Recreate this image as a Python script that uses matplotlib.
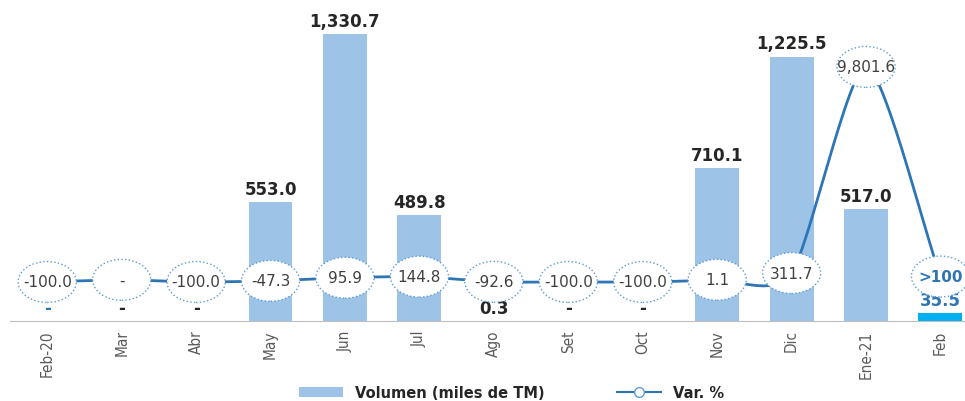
import numpy as np
import matplotlib
matplotlib.use("Agg")
import matplotlib.pyplot as plt
from matplotlib.path import Path
from matplotlib.patches import Patch
from matplotlib.lines import Line2D

# Data
months = ["Feb-20", "Mar", "Abr", "May", "Jun", "Jul", "Ago", "Set", "Oct",
          "Nov", "Dic", "Ene-21", "Feb"]
volumen = [0, 0, 0, 553.0, 1330.7, 489.8, 0.3, 0, 0, 710.1, 1225.5, 517.0, 35.5]
vol_labels = ["-", "-", "-", "553.0", "1,330.7", "489.8", "0.3", "-", "-",
              "710.1", "1,225.5", "517.0", "35.5"]
var_pct = [-100.0, 0, -100.0, -47.3, 95.9, 144.8, -92.6, -100.0, -100.0,
           1.1, 311.7, 9801.6, 150]
var_labels = ["-100.0", "-", "-100.0", "-47.3", "95.9", "144.8", "-92.6",
              "-100.0", "-100.0", "1.1", "311.7", "9,801.6", ">100"]

bar_color = "#9DC3E6"
last_bar_color = "#00B0F0"
line_color = "#2E75B6"


def smooth(xs, ys, n=30, tension=0.7):
    # cardinal spline through the points, like Excel's smoothed line
    xs = np.asarray(xs, float)
    ys = np.asarray(ys, float)
    mx = np.gradient(xs) * tension
    my = np.gradient(ys) * tension
    t = np.linspace(0, 1, n)
    h00 = 2 * t ** 3 - 3 * t ** 2 + 1
    h10 = t ** 3 - 2 * t ** 2 + t
    h01 = -2 * t ** 3 + 3 * t ** 2
    h11 = t ** 3 - t ** 2
    outx, outy = [], []
    for i in range(len(xs) - 1):
        outx.extend(h00 * xs[i] + h10 * mx[i] + h01 * xs[i + 1] + h11 * mx[i + 1])
        outy.extend(h00 * ys[i] + h10 * my[i] + h01 * ys[i + 1] + h11 * my[i + 1])
    return np.array(outx), np.array(outy)


fig = plt.figure(figsize=(9.65, 4.02), dpi=100)
ax = fig.add_axes([10 / 965, 0.199, 955 / 965, 0.789])
x = np.arange(len(months))

colors = [bar_color] * (len(months) - 1) + [last_bar_color]
ax.bar(x, volumen, width=0.59, color=colors, zorder=2)
ax.set_xlim(-0.5, 12.33)
ax.set_ylim(0, 1470)

for i, (v, lab) in enumerate(zip(volumen, vol_labels)):
    col = "#262626"
    if i == 0 or i == len(months) - 1:
        col = line_color
    ax.annotate(lab, (i, v), xytext=(0, 3), textcoords="offset points",
                ha="center", va="bottom", fontsize=12, fontweight="bold",
                color=col, zorder=6)

for s in ["top", "right", "left"]:
    ax.spines[s].set_visible(False)
ax.spines["bottom"].set_color("#BFBFBF")
ax.set_yticks([])
ax.set_xticks(x)
ax.set_xticklabels(months, rotation=90, fontsize=11, color="#595959",
                   fontstretch="condensed")
ax.tick_params(axis="x", length=0, pad=6)

# Secondary axis for the % variation line
ax2 = ax.twinx()
ax2.set_ylim(-1896, 12704)
ax2.set_yticks([])
for s in ax2.spines.values():
    s.set_visible(False)

sx, sy = smooth(x, var_pct)
ax2.plot(sx, sy, color=line_color, lw=2, zorder=3)

circle = Path.unit_circle()
ell = Path(circle.vertices * [1.42, 1.0], circle.codes)
ax2.scatter(x, var_pct, s=1750, marker=ell, facecolor="white",
            edgecolor="#5B9BD5", linewidths=1.0, linestyle=":", zorder=4)

for i, (v, lab) in enumerate(zip(var_pct, var_labels)):
    if lab == ">100":
        ax2.text(i, v, lab, ha="center", va="center", fontsize=11,
                 fontweight="bold", color=line_color, zorder=5)
    else:
        ax2.text(i, v, lab, ha="center", va="center", fontsize=11,
                 color="#404040", zorder=5)

handles = [Patch(facecolor=bar_color, edgecolor="none"),
           Line2D([0], [0], color=line_color, lw=1.5, marker="o",
                  markersize=7, markerfacecolor="white",
                  markeredgecolor="#5B9BD5")]
leg = fig.legend(handles, ["Volumen (miles de TM)", "Var. %"], ncol=2,
                 loc="lower center", bbox_to_anchor=(0.53, -0.03),
                 frameon=False, columnspacing=5, handlelength=3,
                 prop={"weight": "bold", "size": 10.5})
for t in leg.get_texts():
    t.set_color("#262626")

fig.savefig("out.png", dpi=100)
